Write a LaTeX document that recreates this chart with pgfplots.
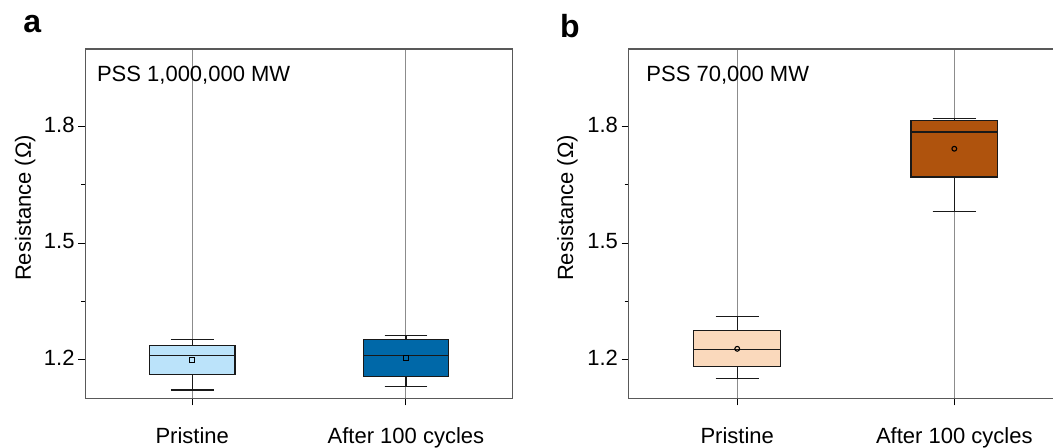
\documentclass[border=0pt]{standalone}
\usepackage{pgfplots}
\pgfplotsset{compat=1.18}
\usepgfplotslibrary{statistics}
\usepackage{fontspec}
\setmainfont{Liberation Sans}

\definecolor{pristineA}{RGB}{187,227,250}
\definecolor{cycledA}{RGB}{0,104,168}
\definecolor{pristineB}{RGB}{250,217,188}
\definecolor{cycledB}{RGB}{175,83,13}

\pgfplotsset{
  panel/.style={
    scale only axis,
    height=174.65pt,
    ymin=1.1, ymax=2.0,
    xmin=0.5, xmax=2.5,
    xtick={1,2},
    xticklabels={Pristine, After 100 cycles},
    ytick={1.2,1.5,1.8},
    minor y tick num=1,
    yticklabel style={/pgf/number format/fixed,
      /pgf/number format/precision=1,
      /pgf/number format/fixed zerofill,
      anchor=east, inner sep=0pt, xshift=-1.7pt, yshift=1pt},
    xticklabel style={anchor=base, yshift=-18.9pt},
    /pgf/number format/assume math mode=true,
    tick align=outside,
    tick pos=left,
    major tick length=3.5pt,
    minor tick length=2pt,
    every tick/.style={black, line width=0.5pt},
    xmajorgrids,
    major x grid style={draw=black!45, line width=0.5pt},
    axis line style={draw=black!65, line width=0.75pt},
    font=\fontsize{11}{13}\selectfont,
    ticklabel style={font=\fontsize{11}{13}\selectfont},
    ylabel={Resistance (Ω)},
    ylabel style={at={(axis description cs:-0.141,0.545)}, anchor=center},
    boxplot/draw direction=y,
    boxplot/box extend=0.4,
    boxplot/whisker extend=0.2,
  },
  box/.style={draw=black!90, line width=0.65pt, fill=#1, solid},
  meanmark/.style={only marks, mark=#1, mark size=1.2pt,
    mark options={draw=black, line width=0.55pt, fill=none}},
}

\begin{document}
\begin{tikzpicture}
  \useasboundingbox (0pt,0pt) rectangle (526.5pt,224pt);
  \clip (0pt,0pt) rectangle (526.5pt,224pt);

  % panel a: PSS 1,000,000 MW
  \begin{axis}[panel, width=213.7pt, at={(42.67pt,24.85pt)}, anchor=south west]
    \addplot[box=pristineA, boxplot prepared={draw position=1,
      lower whisker=1.121, lower quartile=1.161, median=1.210,
      upper quartile=1.236, upper whisker=1.251}] coordinates {};
    \addplot[box=cycledA, boxplot prepared={draw position=2,
      lower whisker=1.131, lower quartile=1.156, median=1.210,
      upper quartile=1.251, upper whisker=1.262}] coordinates {};
    \addplot[meanmark=square] coordinates {(1,1.198) (2,1.203)};
    \node[anchor=base west, inner sep=0pt] at (axis cs:0.553,1.915) {PSS 1,000,000 MW};
  \end{axis}

  % panel b: PSS 70,000 MW
  \begin{axis}[panel, width=217.1pt, at={(314.33pt,24.85pt)}, anchor=south west]
    \addplot[box=pristineB, boxplot prepared={draw position=1,
      lower whisker=1.151, lower quartile=1.182, median=1.225,
      upper quartile=1.275, upper whisker=1.310}] coordinates {};
    \addplot[box=cycledB, boxplot prepared={draw position=2,
      lower whisker=1.581, lower quartile=1.670, median=1.786,
      upper quartile=1.815, upper whisker=1.821}] coordinates {};
    \addplot[meanmark=o] coordinates {(1,1.2275) (2,1.743)};
    \node[anchor=base west, inner sep=0pt] at (axis cs:0.58,1.915) {PSS 70,000 MW};
  \end{axis}

  % panel letters
  \node[anchor=base west, inner sep=0pt, font=\bfseries\fontsize{16}{18}\selectfont]
    at (11.5pt,207.85pt) {a};
  \node[anchor=base west, inner sep=0pt, font=\bfseries\fontsize{16}{18}\selectfont]
    at (279.8pt,205.35pt) {b};
\end{tikzpicture}
\end{document}
